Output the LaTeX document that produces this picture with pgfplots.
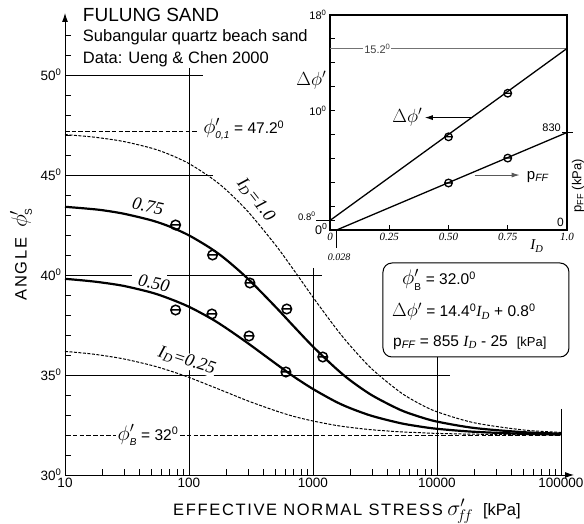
\RequirePackage{fix-cm}
\documentclass[border=0pt]{standalone}
\usepackage{fontspec}
\setmainfont{Liberation Sans}
\newfontfamily\tms{Liberation Serif}
\usepackage{pgfplots}
\pgfplotsset{compat=1.18}
\usetikzlibrary{arrows.meta}

\newcommand{\fs}[1]{\fontsize{#1}{#1}\selectfont}
\newcommand{\dg}{\textsuperscript{0}}
\newcommand{\ID}{{\tms\itshape I\textsubscript{D}}}
% phi' with a sans subscript, in a larger math size
\newcommand{\phis}[2][21]{\mbox{\fs{#1}\(\phi'_{\mbox{\fs{10}#2}}\)}}
\newcommand{\dphi}[1][19]{\mbox{\fs{#1}\(\Delta\phi'\)}}

% circle with a horizontal bar through it
\pgfdeclareplotmark{theta}{%
  \pgfpathcircle{\pgfpointorigin}{\pgfplotmarksize}%
  \pgfpathmoveto{\pgfpoint{-\pgfplotmarksize}{0pt}}%
  \pgfpathlineto{\pgfpoint{\pgfplotmarksize}{0pt}}%
  \pgfusepathqstroke}

\begin{document}
\begin{tikzpicture}
% ---------------- main chart ----------------
\begin{axis}[
  at={(65pt,49pt)}, anchor=south west, scale only axis,
  width=509pt, height=462pt,
  xmode=log, xmin=10, xmax=127400, ymin=30, ymax=53.1,
  axis x line=bottom, axis y line=left,
  axis line style={line width=0.9pt, -{Latex[length=9pt,width=6pt]}},
  xtick={10,100,1000,10000,100000},
  xticklabels={10,100,1000,10000,100000},
  minor xtick={20,30,40,50,60,70,80,90,200,300,400,500,600,700,800,900,
    2000,3000,4000,5000,6000,7000,8000,9000,20000,30000,40000,50000,60000,70000,80000,90000},
  ytick={30,35,40,45,50},
  yticklabels={30\dg,35\dg,40\dg,45\dg,50\dg},
  minor ytick={31,...,52},
  tick align=inside, major tick length=7pt, minor tick length=6pt,
  tick style={line width=0.8pt, black},
  ticklabel style={font=\fs{13.5}},
  xlabel={{\addfontfeatures{LetterSpace=10}EFFECTIVE NORMAL STRESS} \mbox{\fs{22}\(\sigma'_{\!f\!f}\)}\hspace{10pt}[kPa]},
  xlabel style={font=\fs{16.5}, at={(axis description cs:0.554,-0.0866)}, anchor=base},
  ylabel={{\addfontfeatures{LetterSpace=10}ANGLE}\hspace{10pt}\phis[22]{S}},
  ylabel style={font=\fs{16.5}, at={(axis description cs:-0.0864,0.478)}, anchor=center},
  clip=false,
]
% reference lines
\draw[line width=0.9pt] (axis cs:10,50) -- (axis cs:130,50);
\draw[line width=0.9pt] (axis cs:10,45) -- (axis cs:156,45);
\draw[line width=0.9pt] (axis cs:10,40) -- (axis cs:34.7,40);
\draw[line width=0.9pt] (axis cs:66.5,40) -- (axis cs:1183,40);
\draw[line width=0.9pt] (axis cs:10,35) -- (axis cs:12700,35);
\draw[line width=0.9pt] (axis cs:100,50.35) -- (axis cs:100,30);
\draw[line width=0.9pt] (axis cs:1000,40.35) -- (axis cs:1000,30);
\draw[line width=0.9pt] (axis cs:10000,35.9) -- (axis cs:10000,30);
\draw[line width=0.9pt] (axis cs:100000,33.3) -- (axis cs:100000,30);
\draw[line width=0.9pt, dash pattern=on 4.5pt off 2.2pt] (axis cs:10,47.2) -- (axis cs:120,47.2);
\draw[line width=0.9pt, dash pattern=on 4.5pt off 2.2pt] (axis cs:11.6,32) -- (axis cs:100000,32);

% I_D = 1.0
\addplot[line width=1pt, dash pattern=on 3pt off 1.5pt, smooth] coordinates {
  (10,47.02) (15,46.93) (20,46.84) (30,46.67) (50,46.34) (70,46.02) (100,45.57)
  (150,44.87) (200,44.25) (300,43.16) (500,41.49) (700,40.25) (1000,38.89)
  (1500,37.41) (2000,36.46) (3000,35.29) (5000,34.16) (7000,33.61) (10000,33.16)
  (20000,32.61) (50000,32.25) (100000,32.13)};
% I_D = 0.75
\addplot[line width=2.2pt, smooth] coordinates {
  (10,43.41) (15,43.32) (20,43.24) (30,43.06) (50,42.73) (70,42.42) (100,41.98)
  (150,41.33) (200,40.76) (300,39.80) (500,38.40) (700,37.43) (1000,36.42)
  (1500,35.38) (2000,34.73) (3000,33.98) (5000,33.27) (7000,32.94) (10000,32.67)
  (20000,32.35) (50000,32.14) (100000,32.07)};
% I_D = 0.50
\addplot[line width=2.2pt, smooth] coordinates {
  (10,39.81) (15,39.71) (20,39.62) (30,39.45) (50,39.12) (70,38.81) (100,38.41)
  (150,37.83) (200,37.34) (300,36.58) (500,35.57) (700,34.92) (1000,34.30)
  (1500,33.69) (2000,33.34) (3000,32.95) (5000,32.60) (7000,32.44) (10000,32.31)
  (20000,32.16) (50000,32.06) (100000,32.03)};
% I_D = 0.25
\addplot[line width=1pt, dash pattern=on 3pt off 1.5pt, smooth] coordinates {
  (10,36.18) (15,36.08) (20,35.98) (30,35.80) (50,35.48) (70,35.21) (100,34.88)
  (150,34.45) (200,34.14) (300,33.70) (500,33.21) (700,32.93) (1000,32.70)
  (1500,32.49) (2000,32.38) (3000,32.26) (5000,32.16) (7000,32.12) (10000,32.08)
  (20000,32.04) (50000,32.02) (100000,32.01)};

% test data
\addplot[only marks, mark=theta, mark size=4.8pt, mark options={line width=1.5pt}]
  coordinates {(78,42.5) (155,41.0) (310,39.6) (615,38.3) (1200,35.9)};
\addplot[only marks, mark=theta, mark size=4.8pt, mark options={line width=1.5pt}]
  coordinates {(78,38.25) (153,38.05) (305,36.95) (605,35.15)};

% curve labels
\node[rotate=-12, font=\tms\itshape\fs{18}] at (axis cs:46.7,43.45) {0.75};
\node[rotate=-12, font=\tms\itshape\fs{18}] at (axis cs:52.3,39.6) {0.50};
\node[rotate=-18, fill=white, inner sep=0.5pt, font=\tms\itshape\fs{18}] at (axis cs:96,35.7) {I\textsubscript{D}=0.25};
\node[rotate=-52, font=\tms\itshape\fs{18}] at (axis cs:345,43.75) {I\textsubscript{D}=1.0};
\node[anchor=west, inner sep=0pt, font=\fs{15.5}] at (axis cs:130,47.3) {\phis{\itshape 0,1} = 47.2\dg};
\node[fill=white, inner sep=1.5pt, font=\fs{15.5}] at (axis cs:46.7,32) {\phis{\itshape B} = 32\dg};

% titles
\node[anchor=base west, inner sep=0pt, font=\fs{19}] at (axis cs:13.9,52.665) {FULUNG SAND};
\node[anchor=base west, inner sep=0pt, font=\fs{16.5}] at (axis cs:13.9,51.665) {Subangular quartz beach sand};
\node[anchor=base west, inner sep=0pt, font=\fs{16.5}] at (axis cs:13.9,50.55) {Data: Ueng \& Chen 2000};

% formula box
\draw[line width=1pt, rounded corners=9pt, fill=white] (axis cs:3670,35.9) rectangle (axis cs:116000,40.6);
\node[anchor=base west, inner sep=0pt, font=\fs{15.5}] at (axis cs:5224,39.5) {\phis{B} = 32.0\dg};
\node[anchor=base west, inner sep=0pt, font=\fs{15.5}] at (axis cs:4335,37.9) {\dphi\ = 14.4\dg\ID\ + 0.8\dg};
\node[anchor=base west, inner sep=0pt, font=\fs{15.5}] at (axis cs:4416,36.425) {p\textsubscript{\itshape FF} = 855 \ID\ - 25\hspace{9pt}{\fs{13}[kPa]}};
\end{axis}

% ---------------- inset: delta phi ----------------
\begin{axis}[
  at={(330pt,294pt)}, anchor=south west, scale only axis,
  width=237pt, height=215pt,
  xmin=0, xmax=1, ymin=0, ymax=18,
  axis background/.style={fill=white},
  axis line style={line width=1.3pt},
  xtick={0,0.25,0.5,0.75,1}, xticklabels={0,0.25,0.50,0.75,1.0},
  xtick pos=bottom, ytick pos=left,
  ytick={0,0.8,10,18}, yticklabels={,,10\dg,18\dg},
  minor ytick={2,4,6,8,12,14,16},
  tick align=inside, major tick length=5pt, minor tick length=5pt,
  tick style={line width=0.8pt, black},
  xticklabel style={font=\tms\itshape\fs{11}},
  yticklabel style={font=\fs{11}},
  clip=false,
]
\draw[line width=1pt, black!55] (axis cs:0,15.2) -- (axis cs:1,15.2);
\node[fill=white, inner sep=1pt, font=\fs{11}, text=black!75] at (axis cs:0.2,15.2) {15.2\dg};
\addplot[line width=1.3pt] coordinates {(0,0.8) (1,15.2)};
\addplot[only marks, mark=theta, mark size=3.8pt, mark options={line width=1.3pt}]
  coordinates {(0.5,7.8) (0.75,11.45)};
\draw[line width=0.9pt, -{Latex[length=8pt,width=5pt]}] (axis cs:0.593,9.41) -- (axis cs:0.40,9.41);
\node[anchor=east, inner sep=0pt] at (axis cs:0.39,9.41) {\dphi};
\draw[line width=0.9pt, black!65, -{Latex[length=8pt,width=5pt]}] (axis cs:0.61,4.6) -- (axis cs:0.80,4.6);
\node[anchor=west, inner sep=0pt, font=\fs{15}] at (axis cs:0.83,4.45) {p\textsubscript{\itshape FF}};
\node[anchor=east, inner sep=0pt] at (axis cs:-0.015,12.56) {\dphi};
\draw[line width=0.6pt] (axis cs:0,0.8) -- ++(-14pt,0);
\node[anchor=south east, inner sep=0pt, font=\fs{9.5}] at (axis cs:-0.06,0.75) {0.8\dg};
\node[anchor=east, inner sep=0pt, font=\fs{12.5}] at (axis cs:-0.01,0.1) {0\dg};
\draw[line width=0.8pt] (axis cs:0.028,0) -- (axis cs:0.028,-1.5);
\node[font=\tms\itshape\fs{10}] at (axis cs:0.038,-2.3) {0.028};
\node[font=\tms\itshape\fs{15}] at (axis cs:0.873,-1.34) {I\textsubscript{D}};
\end{axis}

% ---------------- inset: p_FF (right axis) ----------------
\begin{axis}[
  at={(330pt,294pt)}, anchor=south west, scale only axis,
  width=237pt, height=215pt,
  xmin=0, xmax=1, ymin=0, ymax=1830,
  axis x line=none, axis y line*=right,
  axis line style={line width=1.3pt},
  ytick={830}, yticklabel=\empty,
  tick align=center, major tick length=11pt,
  tick style={line width=0.9pt, black},
  clip=false,
]
\addplot[line width=1.3pt] coordinates {(0.028,0) (1,830)};
\addplot[only marks, mark=theta, mark size=3.8pt, mark options={line width=1.3pt}]
  coordinates {(0.5,400) (0.75,612)};
\node[anchor=south east, inner sep=0pt, font=\fs{11}] at (axis cs:1,830) [xshift=-6pt, yshift=1pt] {830};
\node[anchor=east, inner sep=0pt, font=\fs{12}] at (axis cs:1,0) [xshift=-3pt, yshift=8pt] {0};
\node[xshift=11pt, rotate=90, font=\fs{13}] at (axis cs:1,375) {p\textsubscript{FF} (kPa)};
\end{axis}

\pgfresetboundingbox
\path[use as bounding box] (0,0) rectangle (584pt,524pt);
\end{tikzpicture}
\end{document}
